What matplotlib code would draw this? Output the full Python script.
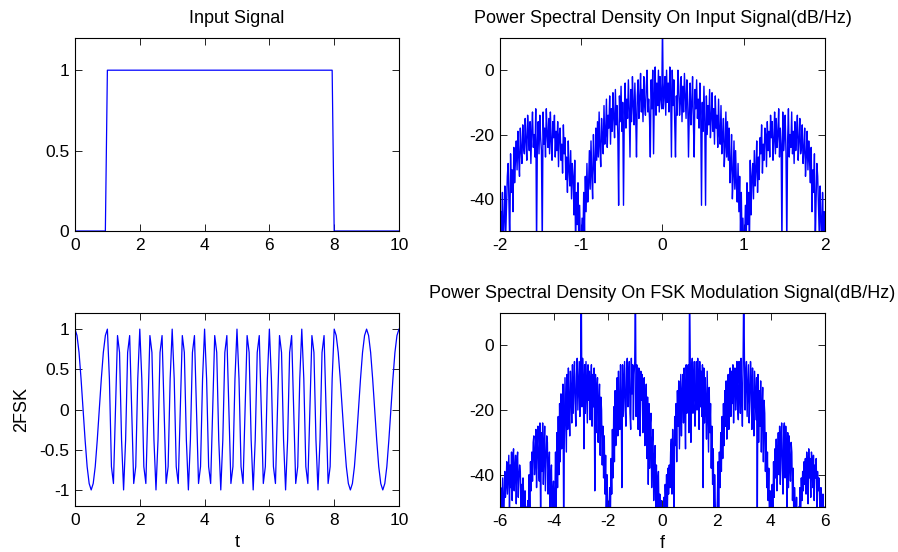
import numpy as np
import matplotlib
matplotlib.use("Agg")
import matplotlib.pyplot as plt

plt.rcParams['font.family'] = ['Liberation Sans', 'DejaVu Sans']
plt.rcParams['font.size'] = 12.5

# ---------------- data ----------------
# time samples (1/16 s spacing from 0 to 10)
t = np.linspace(0, 10, 161)

# input rectangular pulse
input_signal = [0] * 16 + [1] * 112 + [0] * 33

# 2FSK waveform samples
fsk_signal = [
    1, .92, .71, .38, 0, -.38, -.71, -.92, -1, -.92, -.71, -.38, 0, .38, .71, .92,
    1, .38, -.71, -.92, 0, .92, .71, -.38, -1, -.38, .71, .92, 0, -.92, -.71, .38,
    1, .38, -.71, -.92, 0, .92, .71, -.38, -1, -.38, .71, .92, 0, -.92, -.71, .38,
    1, .38, -.71, -.92, 0, .92, .71, -.38, -1, -.38, .71, .92, 0, -.92, -.71, .38,
    1, .38, -.71, -.92, 0, .92, .71, -.38, -1, -.38, .71, .92, 0, -.92, -.71, .38,
    1, .38, -.71, -.92, 0, .92, .71, -.38, -1, -.38, .71, .92, 0, -.92, -.71, .38,
    1, .38, -.71, -.92, 0, .92, .71, -.38, -1, -.38, .71, .92, 0, -.92, -.71, .38,
    1, .38, -.71, -.92, 0, .92, .71, -.38, -1, -.38, .71, .92, 0, -.92, -.71, .38,
    1, .92, .71, .38, 0, -.38, -.71, -.92, -1, -.92, -.71, -.38, 0, .38, .71, .92,
    1, .92, .71, .38, 0, -.38, -.71, -.92, -1, -.92, -.71, -.38, 0, .38, .71, .92,
    1,
]

# PSD of input signal (dB/Hz), frequency -2..2 (step 0.01)
psd_input = [
    -55, -44, -50, -38, -55, -47, -36, -52, -42, -33,
    -29, -41, -55, -26, -38, -31, -44, -24, -35, -28,
    -22, -31, -19, -27, -33, -18, -25, -29, -17, -24,
    -26, -15, -22, -28, -14, -20, -25, -16, -29, -19,
    -13, -24, -20, -27, -12, -55, -22, -16, -26, -14,
    -21, -25, -55, -13, -23, -18, -27, -12, -20, -24,
    -15, -26, -13, -22, -28, -16, -21, -14, -27, -19,
    -25, -16, -30, -20, -18, -28, -23, -32, -17, -26,
    -21, -34, -27, -38, -22, -31, -36, -25, -40, -29,
    -33, -45, -28, -55, -38, -48, -35, -55, -42, -55,
    -55, -46, -55, -38, -50, -33, -44, -29, -41, -36,
    -25, -37, -22, -33, -40, -20, -30, -35, -18, -28,
    -16, -27, -13, -24, -30, -15, -21, -26, -11, -23,
    -20, -9, -24, -14, -18, -8, -23, -12, -19, -7,
    -15, -21, -6, -17, -11, -20, -42, -8, -16, -5,
    -19, -10, -42, -13, -4, -18, -9, -15, -3, -12,
    -27, -6, -16, -2, -11, -17, -4, -14, -27, -8,
    -3, -15, -9, -1, -13, -6, -16, -2, -11, -14,
    -5, 0, -13, -9, -15, -27, -3, -12, 0, -26,
    -7, 1, -14, -4, -11, 0, -13, -2, -9, -12,
    15,
    -12, -8, -2, -14, 0, -10, -4, -13, 1, -6,
    -27, 0, -11, -3, -16, -27, -8, -14, 0, -5,
    -14, -10, -2, -16, -5, -13, -1, -8, -15, -3,
    -9, -27, -13, -4, -17, -11, -2, -16, -27, -6,
    -12, -3, -15, -9, -18, -4, -13, -42, -10, -19,
    -5, -16, -42, -8, -20, -11, -17, -6, -21, -15,
    -7, -19, -12, -23, -8, -18, -14, -24, -9, -20,
    -23, -11, -26, -21, -15, -30, -24, -13, -27, -16,
    -28, -18, -35, -30, -20, -40, -33, -22, -37, -25,
    -36, -41, -29, -44, -33, -50, -38, -55, -46, -55,
    -55, -42, -55, -35, -48, -38, -55, -28, -45, -33,
    -29, -40, -25, -36, -31, -22, -38, -27, -34, -21,
    -26, -17, -32, -23, -28, -18, -20, -30, -16, -25,
    -19, -27, -14, -21, -16, -28, -22, -13, -26, -15,
    -24, -20, -12, -27, -18, -23, -55, -13, -25, -21,
    -14, -26, -55, -22, -12, -27, -20, -24, -13, -26,
    -19, -29, -16, -25, -20, -14, -28, -22, -15, -26,
    -24, -17, -29, -25, -18, -33, -27, -19, -31, -22,
    -28, -35, -24, -44, -31, -38, -26, -55, -41, -29,
    -33, -42, -52, -36, -47, -55, -38, -50, -44, -55,
]

# PSD of FSK modulated signal (dB/Hz), frequency -6..6 (step 0.025)
psd_fsk = [
    -55, -44, -55, -48, -41, -55, -50, -39, -47, -43,
    -36, -46, -40, -34, -50, -37, -44, -33, -48, -35,
    -32, -45, -38, -34, -49, -36, -33, -47, -41, -37,
    -39, -50, -43, -55, -41, -47, -55, -45, -55, -50,
    -55, -48, -55, -40, -50, -36, -45, -33, -42, -30,
    -28, -40, -35, -26, -44, -31, -25, -38, -42, -24,
    -55, -27, -39, -24, -43, -33, -25, -45, -36, -28,
    -30, -46, -38, -33, -55, -41, -37, -55, -46, -42,
    -55, -48, -33, -50, -27, -44, -22, -40, -18, -36,
    -15, -32, -25, -12, -55, -29, -10, -22, -33, -9,
    -26, -7, -19, -28, -8, -14, -24, -6, -21, -12,
    -5, -18, -25, -9, -4, -20, -13, -5, -22, -8,
    20, -19, -4, -11, -32, -6, -21, -5, -15, -24,
    -6, -17, -8, -23, -12, -6, -25, -9, -19, -7,
    -45, -9, -27, -14, -10, -30, -18, -12, -34, -16,
    -20, -37, -25, -41, -28, -46, -34, -50, -40, -55,
    -55, -50, -44, -55, -35, -46, -26, -41, -19, -36,
    -14, -31, -22, -10, -28, -8, -20, -26, -6, -17,
    -44, -6, -22, -13, -5, -20, -25, -7, -4, -19,
    -11, -5, -21, -26, -4, -15, -6, -23, -9, -5,
    20, -22, -6, -14, -26, -7, -20, -28, -8, -17,
    -9, -27, -14, -10, -31, -20, -12, -35, -16, -43,
    -18, -38, -24, -21, -44, -30, -26, -48, -35, -31,
    -50, -37, -55, -42, -39, -55, -46, -55, -48, -55,
    -52,
    -55, -47, -55, -43, -50, -40, -55, -38, -46, -37,
    -44, -33, -29, -46, -26, -37, -55, -22, -31, -18,
    -36, -14, -25, -11, -32, -20, -9, -28, -15, -9,
    -24, -7, -18, -32, -6, -21, -12, -6, -27, 20,
    -5, -30, -8, -4, -21, -14, -5, -25, -18, -5,
    -20, -4, -12, -26, -5, -19, -8, -22, -6, -44,
    -7, -24, -10, -18, -29, -8, -21, -33, -13, -27,
    -18, -38, -25, -43, -32, -55, -40, -50, -55, -55,
    -48, -36, -55, -33, -44, -27, -39, -22, -35, -18,
    -31, -14, -25, -11, -29, -17, -9, -26, -13, -7,
    -22, -8, -18, -6, -24, -11, -7, -20, -14, -5,
    -19, -23, -5, -12, -21, -4, -16, -25, -6, 20,
    -4, -20, -9, -5, -22, -14, -6, -24, -17, -5,
    -11, -26, -7, -19, -28, -8, -15, -23, -10, -55,
    -9, -30, -14, -25, -11, -33, -20, -13, -36, -17,
    -21, -39, -27, -44, -33, -48, -38, -55, -45, -55,
    -55, -43, -55, -36, -47, -32, -41, -29, -45, -35,
    -27, -40, -25, -43, -30, -24, -38, -46, -26, -24,
    -41, -25, -33, -55, -27, -44, -28, -37, -42, -30,
    -33, -48, -38, -55, -44, -50, -55, -47, -55, -55,
    -50, -55, -44, -55, -41, -48, -39, -45, -36, -43,
    -35, -46, -33, -38, -49, -32, -41, -35, -47, -33,
    -36, -44, -34, -48, -37, -41, -35, -50, -39, -45,
    -41, -47, -55, -44, -50, -55, -46, -55, -50, -55,
]

f_input = np.linspace(-2, 2, len(psd_input))
f_fsk = np.linspace(-6, 6, len(psd_fsk))

# ---------------- plotting ----------------
fig = plt.figure(figsize=(8.98, 5.52), dpi=100)
ax1 = fig.add_axes([0.0835, 0.5815, 0.3608, 0.3496])
ax2 = fig.add_axes([0.5568, 0.5815, 0.3619, 0.3496])
ax3 = fig.add_axes([0.0835, 0.0833, 0.3608, 0.3496])
ax4 = fig.add_axes([0.5568, 0.0815, 0.3619, 0.3514])

blue = (0, 0, 1)
lw = 1.0
title_kw = dict(fontsize=13, pad=11)

ax1.plot(t, input_signal, color=blue, lw=0.9)
ax1.set_xlim(0, 10)
ax1.set_ylim(0, 1.2)
ax1.set_xticks([0, 2, 4, 6, 8, 10])
ax1.set_yticks([0, 0.5, 1])
ax1.set_title('Input Signal', **title_kw)

ax2.plot(f_input, psd_input, color=blue, lw=lw)
ax2.set_xlim(-2, 2)
ax2.set_ylim(-50, 10)
ax2.set_xticks([-2, -1, 0, 1, 2])
ax2.set_yticks([-40, -20, 0])
ax2.set_title('Power Spectral Density On Input Signal(dB/Hz)', **title_kw)

ax3.plot(t, fsk_signal, color=blue, lw=0.9)
ax3.set_xlim(0, 10)
ax3.set_ylim(-1.2, 1.2)
ax3.set_xticks([0, 2, 4, 6, 8, 10])
ax3.set_yticks([-1, -0.5, 0, 0.5, 1])
ax3.set_xlabel('t', fontsize=13, labelpad=4)
ax3.set_ylabel('2FSK', fontsize=13, labelpad=7)

ax4.plot(f_fsk, psd_fsk, color=blue, lw=lw)
ax4.set_xlim(-6, 6)
ax4.set_ylim(-50, 10)
ax4.set_xticks([-6, -4, -2, 0, 2, 4, 6])
ax4.set_yticks([-40, -20, 0])
ax4.set_xlabel('f', fontsize=13, labelpad=4)
ax4.set_title('Power Spectral Density On FSK Modulation Signal(dB/Hz)', **title_kw)

for ax in (ax1, ax2, ax3, ax4):
    ax.tick_params(direction='in', top=True, right=True, length=5, width=0.6,
                   labelsize=12.5)
    ax.tick_params(axis='x', pad=5)
    ax.tick_params(axis='y', pad=4)
    for s in ax.spines.values():
        s.set_linewidth(0.8)
        s.set_color('black')
    ax.set_xticklabels(['%g' % v for v in ax.get_xticks()])
    ax.set_yticklabels(['%g' % v for v in ax.get_yticks()])

fig.savefig('out.png', dpi=100)
